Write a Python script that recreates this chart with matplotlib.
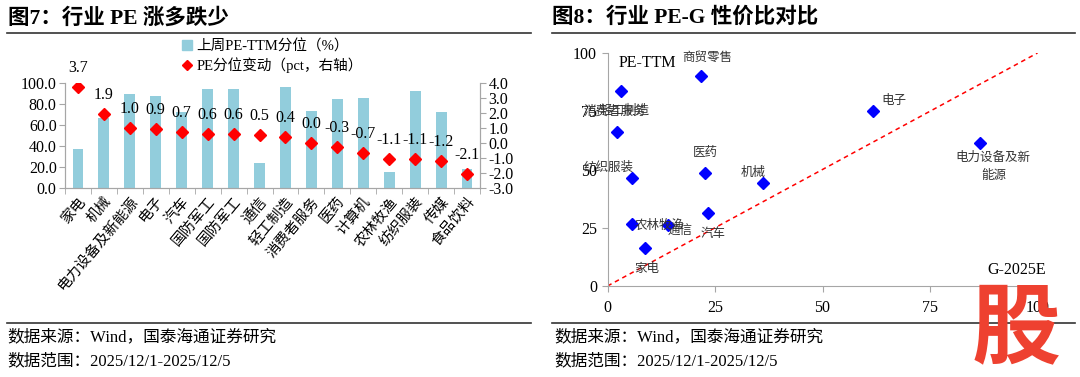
import matplotlib
matplotlib.use("Agg")
import matplotlib.pyplot as plt
from matplotlib.lines import Line2D
from matplotlib.patches import Patch

##fonts: serif latin, CJK fallback
FAM = ['Liberation Serif', 'Noto Sans CJK SC']
plt.rcParams['font.family'] = FAM
plt.rcParams['axes.unicode_minus'] = False

###################################
# Fig 7 data
industries = ['家电', '机械', '电力设备及新能源', '电子', '汽车', '国防军工', '国防军工', '通信',
              '轻工制造', '消费者服务', '医药', '计算机', '农林牧渔', '纺织服装', '传媒', '食品饮料']
pe_pct = [37.6, 66.4, 89.5, 87.9, 72.7, 94.3, 94.3, 23.5,
          95.9, 73.6, 84.4, 85.7, 15.6, 92.7, 72.4, 18.4]
pe_chg = [3.7, 1.9, 1.0, 0.9, 0.7, 0.6, 0.6, 0.5,
          0.4, 0.0, -0.3, -0.7, -1.1, -1.1, -1.2, -2.1]

# Fig 8 data
peg_names = ['商贸零售', '轻工制造', '消费者服务', '纺织服装', '医药', '机械', '电子',
             '电力设备及新\n能源', '汽车', '农林牧渔', '通信', '家电']
peg_g = [21.7, 3.1, 2.2, 5.6, 22.7, 36.1, 61.8, 86.7, 23.3, 5.6, 14.1, 8.7]
peg_pe = [90.1, 83.8, 66.2, 46.2, 48.6, 44.3, 75.2, 61.5, 31.5, 26.6, 26.2, 16.2]
# label offsets in pixels (dx, dy down-positive)
peg_off = [(6, -18), (4, 20), (-2, -20), (-23, -11), (0, -20), (-10, -10), (21, -10),
           (13, 24), (5, 21), (28, 2), (12, 7), (2, 21)]

GRAY = '#A6A6A6'
BAR = '#92CDDC'

fig = plt.figure(figsize=(10.8, 3.77), dpi=100)
W, H = 1080., 377.

def fx(x):
    return x / W

def fy(y):
    return 1 - y / H

#### titles + rules
fig.text(fx(8), fy(18), '图7：行业 PE 涨多跌少', fontsize=15.5, fontweight='bold', va='center', ha='left')
fig.text(fx(552), fy(18), '图8：行业 PE-G 性价比对比', fontsize=15.5, fontweight='bold', va='center', ha='left')
for x0, x1 in [(7, 531), (552, 1075)]:
    fig.add_artist(Line2D([fx(x0), fx(x1)], [fy(33), fy(33)], color='#333333', lw=1.2))
    fig.add_artist(Line2D([fx(x0), fx(x1)], [fy(323), fy(323)], color='#333333', lw=1.2))
for x0 in [7, 554]:
    fig.text(fx(x0), fy(337), '数据来源：Wind，国泰海通证券研究', fontsize=12, va='center', ha='left')
    fig.text(fx(x0), fy(361), '数据范围：2025/12/1-2025/12/5', fontsize=12, va='center', ha='left')

##########################################
# left chart
ax = fig.add_axes([fx(65), fy(188), (480 - 65) / W, (188 - 83) / H])
xs = list(range(len(industries)))
ax.bar(xs, pe_pct, width=0.42, color=BAR, zorder=2)
ax.set_xlim(-0.5, len(industries) - 0.5)
ax.set_ylim(0, 100)
ax.set_yticks([0, 20, 40, 60, 80, 100])
ax.set_yticklabels([f'{v:.1f}' for v in [0, 20, 40, 60, 80, 100]])
ax.set_xticks(xs)
ax.set_xticklabels(industries, rotation=50, ha='right', rotation_mode='anchor', fontsize=10.5)
ax.set_xticks([k - 0.5 for k in range(len(industries) + 1)], minor=True)
ax.tick_params(axis='x', which='major', length=0, pad=5)
ax.tick_params(axis='x', which='minor', length=4, color=GRAY)
ax.tick_params(axis='y', length=4, color=GRAY, labelsize=11.5, pad=2)
for s in ['top']:
    ax.spines[s].set_visible(False)
for s in ['left', 'right', 'bottom']:
    ax.spines[s].set_color(GRAY)

ax2 = ax.twinx()
ax2.plot(xs, pe_chg, linestyle='none', marker='D', color='#FF0000', markersize=6.5, zorder=3)
ax2.set_ylim(-3, 4)
ax2.set_yticks(range(-3, 5))
ax2.set_yticklabels([f'{v:.1f}' for v in range(-3, 5)])
ax2.tick_params(axis='y', length=4, color=GRAY, labelsize=11.5, pad=2)
ax2.spines['top'].set_visible(False)
for s in ['left', 'right', 'bottom']:
    ax2.spines[s].set_color(GRAY)
for x, v in zip(xs, pe_chg):
    ax2.annotate(f'{v:.1f}', (x, v), xytext=(0, 8), textcoords='offset points',
                 ha='center', va='bottom', fontsize=11.5)

handles = [Patch(color=BAR), Line2D([], [], linestyle='none', marker='D', color='#FF0000', markersize=5)]
fig.legend(handles, ['上周PE-TTM分位（%）', 'PE分位变动（pct，右轴）'],
           loc='upper left', bbox_to_anchor=(fx(182), fy(39)), frameon=False, fontsize=10.5,
           handlelength=0.7, handleheight=0.7, handletextpad=0.3, labelspacing=0.3,
           borderaxespad=0, borderpad=0)

##########################################
# right chart
bx = fig.add_axes([fx(607.5), fy(286), 430 / W, 233 / H])
bx.plot([0, 100], [0, 100], linestyle=(0, (3, 2.5)), color='#FF0000', lw=1.1, zorder=1)
bx.plot(peg_g, peg_pe, linestyle='none', marker='D', color='#0000FF', markersize=6.5, zorder=3)
for n, g, p, (dx, dy) in zip(peg_names, peg_g, peg_pe, peg_off):
    bx.annotate(n, (g, p), xytext=(dx * 0.72, -dy * 0.72), textcoords='offset points',
                ha='center', va='center', fontsize=9, color='#333333', linespacing=1.6)
bx.set_xlim(0, 100)
bx.set_ylim(0, 100)
bx.set_xticks([0, 25, 50, 75, 100])
bx.set_yticks([0, 25, 50, 75, 100])
bx.tick_params(length=4, color=GRAY, labelsize=11.5)
bx.tick_params(axis='x', pad=6)
for s in ['top', 'right']:
    bx.spines[s].set_visible(False)
for s in ['left', 'bottom']:
    bx.spines[s].set_color(GRAY)
bx.text((647 - 607.5) / 430, (286 - 63) / 233, 'PE-TTM', transform=bx.transAxes,
        ha='center', va='center', fontsize=11.5)
bx.text((1017 - 607.5) / 430, (286 - 270) / 233, 'G-2025E', transform=bx.transAxes,
        ha='center', va='center', fontsize=11.5)

# watermark
fig.text(fx(1016), fy(330), '股', fontsize=64, fontweight='bold', color='#EE4130',
         ha='center', va='center', family=['Noto Sans CJK SC'], zorder=10)

fig.savefig('out.png', dpi=100)
